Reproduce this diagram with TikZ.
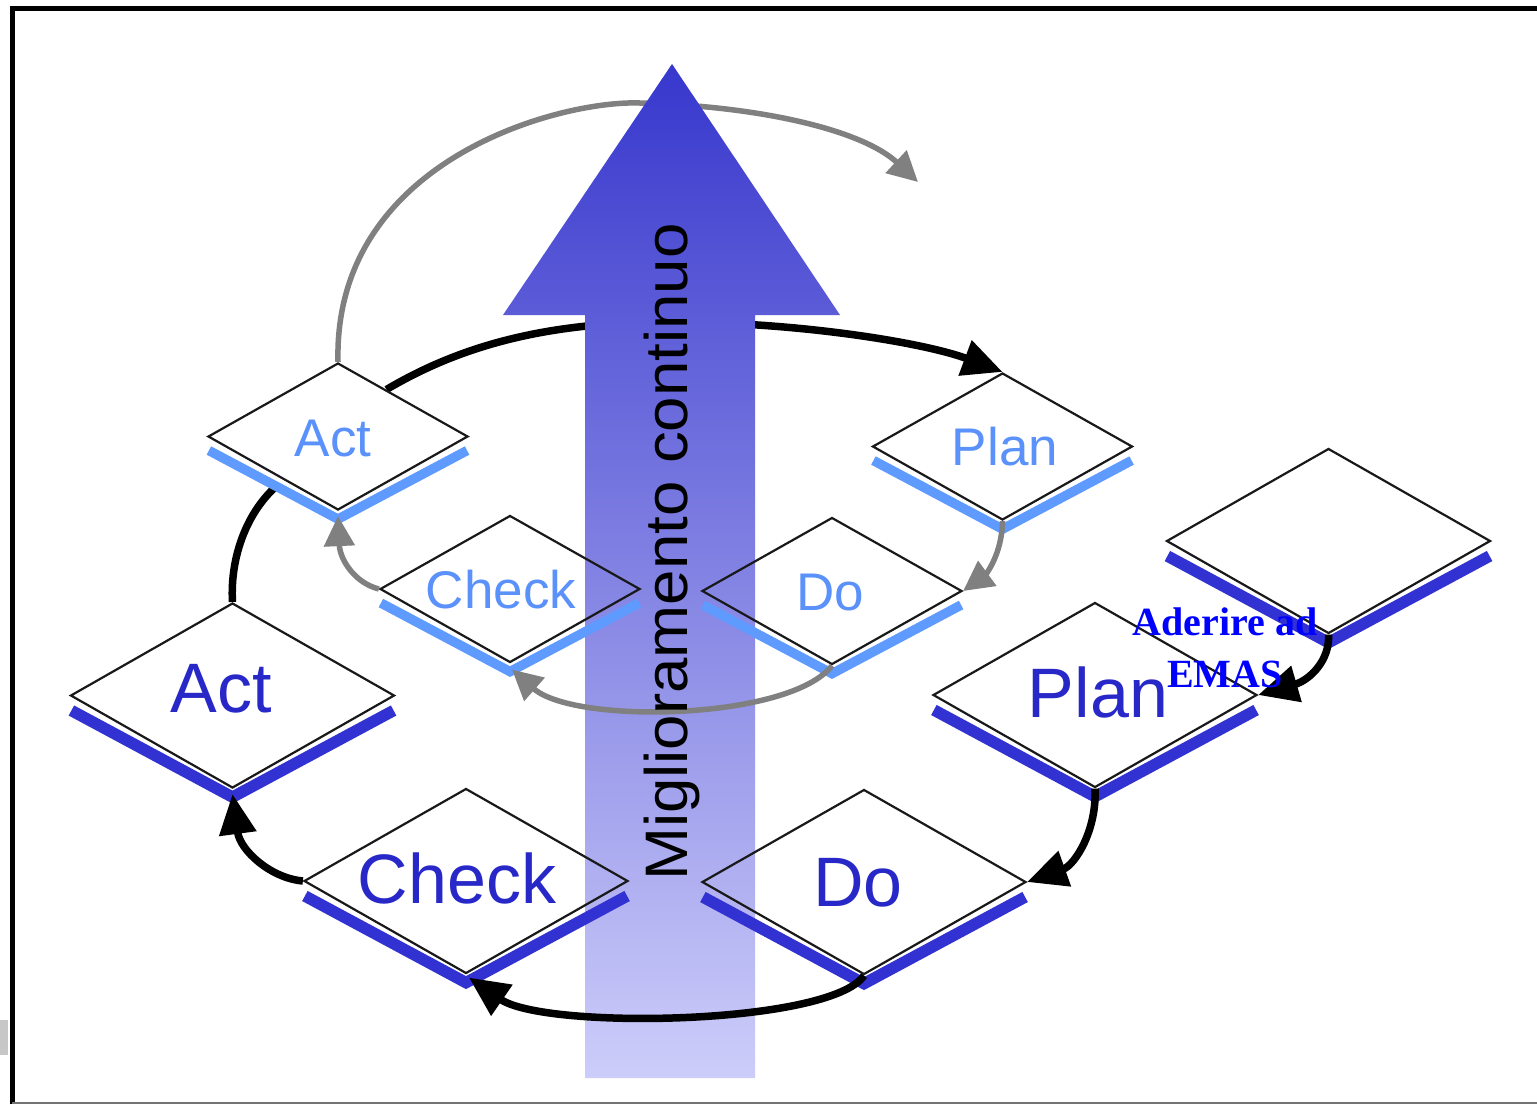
\documentclass[tikz,border=0pt]{standalone}
\usepackage{fontspec}
\usepackage{graphicx}
\setmainfont{Liberation Sans}
\newfontfamily\emasfont{Liberation Serif}
\usetikzlibrary{shapes.geometric,arrows.meta,calc}
\pgfdeclarelayer{back}
\pgfdeclarelayer{mid}
\pgfsetlayers{back,mid,main}
\definecolor{lightstripe}{RGB}{95,155,255}
\definecolor{lighttext}{RGB}{90,145,250}
\definecolor{darkstripe}{RGB}{50,50,210}
\definecolor{darktext}{RGB}{40,40,200}
\definecolor{arcgray}{RGB}{128,128,128}
\definecolor{arrowtop}{RGB}{55,55,205}
\definecolor{arrowbot}{RGB}{205,205,250}
\begin{document}
\begin{tikzpicture}[x=1pt,y=-1pt,
  smalldia/.style={diamond, draw=black!90, line width=2.2pt, inner sep=0pt,
    minimum width=260pt, minimum height=147pt, aspect=1.77},
  bigdia/.style={diamond, draw=black!90, line width=2.2pt, inner sep=0pt,
    minimum width=324pt, minimum height=185pt, aspect=1.75},
  smalllabel/.style={anchor=base, inner sep=0pt, text=lighttext,
    font=\fontsize{53}{60}\selectfont},
  biglabel/.style={anchor=base, inner sep=0pt, text=darktext,
    font=\fontsize{70}{80}\selectfont},
  lstripe/.style={draw=lightstripe, line width=9.5pt, line join=miter},
  dstripe/.style={draw=darkstripe, line width=11.5pt, line join=miter},
  blackarc/.style={draw=black, line width=7.5pt, -{Triangle[length=40pt,width=36pt]}},
  blackline/.style={draw=black, line width=7.5pt},
  grayarc/.style={draw=arcgray, line width=5.5pt, -{Triangle[length=30pt,width=30pt]}}]
\useasboundingbox (0,0) rectangle (1537,1104);
\begin{pgfonlayer}{back}
  \fill[white] (0,0) rectangle (1537,1104);
  \draw[line width=5pt] (12.5,1104) -- (12.5,8) -- (1537,8);
  \draw[black!55, line width=2pt] (12,1102.5) -- (1537,1102.5);
  \fill[black!22] (0,1020) rectangle (8,1055);
\end{pgfonlayer}

% diamonds
\node[smalldia] (sAct)   at (338,436.5)  {};
\node[smalldia] (sPlan)  at (1002.5,446.5) {};
\node[smalldia] (sCheck) at (510,589)    {};
\node[smalldia] (sDo)    at (832,591)    {};
\node[bigdia] (bAct)   at (232.5,695.5) {};
\node[bigdia] (bCheck) at (466,881)     {};
\node[bigdia] (bDo)    at (864,882)     {};
\node[bigdia] (bPlan)  at (1095,695)    {};
\node[bigdia] (ex)     at (1328.5,541)  {};

% stripes
\foreach \n in {sAct,sPlan,sCheck,sDo}
  \draw[lstripe] ($(\n.west)+(2,14)$) -- ($(\n.south)+(0,8)$) -- ($(\n.east)+(-2,14)$);
\foreach \n in {bAct,bCheck,bDo,bPlan,ex}
  \draw[dstripe] ($(\n.west)+(2,15)$) -- ($(\n.south)+(0,8)$) -- ($(\n.east)+(-2,15)$);

% diamond labels
\node[smalllabel] (tsAct)   at (333,456)  {Act};
\node[smalllabel] (tsPlan)  at (1005,465) {Plan};
\node[smalllabel] (tsCheck) at (501,608)  {Check};
\node[smalllabel] (tsDo)    at (830,610)  {Do};
\node[biglabel] (tbAct)   at (221,712)  {Act};
\node[biglabel] (tbCheck) at (457,903)  {Check};
\node[biglabel] (tbDo)    at (858,906)  {Do};
\node[biglabel] (tbPlan)  at (1098,717) {Plan};

% central arrow
\begin{pgfonlayer}{mid}
  \shade[top color=arrowtop, bottom color=arrowbot]
    (672,64) -- (840,315) -- (755,315) -- (755,1078) -- (585,1078) -- (585,315) -- (503,315) -- cycle;
\end{pgfonlayer}

% arcs behind the arrow
\begin{pgfonlayer}{back}
  \draw[blackarc] ($(sAct.north)!0.37!(sAct.east)$) .. controls (470,340) and (560,322) .. (670,322)
     .. controls (800,322) and (925,343) .. (sPlan.north);
  \coordinate (grayend) at (918,182);
  \draw[grayarc] (sAct.north) .. controls (333,160) and (560,100) .. (640,103)
     .. controls (760,106) and (862,130) .. (grayend);
  \draw[blackline] (bAct.north) .. controls (230,560) and (245,515) .. ($(sAct.west)!0.52!(sAct.south)+(0,12)$);
\end{pgfonlayer}

% small cycle
\draw[grayarc] (sPlan.south) .. controls (1002,555) and (985,575) .. (sDo.east);
\draw[grayarc] (sDo.south) .. controls (790,720) and (575,725) .. ([shift={(2,6)}]sCheck.south);
\draw[grayarc] (sCheck.west) .. controls (355,583) and (340,560) .. ([shift={(0,5)}]sAct.south);

% big cycle
\draw[blackarc] (bPlan.south) .. controls (1097,830) and (1075,865) .. (bDo.east);
\draw[blackarc] (bDo.south) .. controls (830,1025) and (545,1030) .. ([shift={(3,3)}]bCheck.south);
\draw[blackarc] (bCheck.west) .. controls (270,878) and (240,850) .. ([shift={(0,5)}]bAct.south);
\draw[blackarc] (ex.south) .. controls (1330,660) and (1310,680) .. (bPlan.east);

% labels
\node[font=\emasfont\bfseries\fontsize{40}{52}\selectfont, text=blue, align=center]
  (emas) at (1225,648) {Aderire ad\\EMAS};
\node[rotate=90, anchor=base, font=\fontsize{60}{70}\selectfont]
  (mig) at (687,552) {\scalebox{1.06}[1]{Miglioramento continuo}};
\end{tikzpicture}
\end{document}
